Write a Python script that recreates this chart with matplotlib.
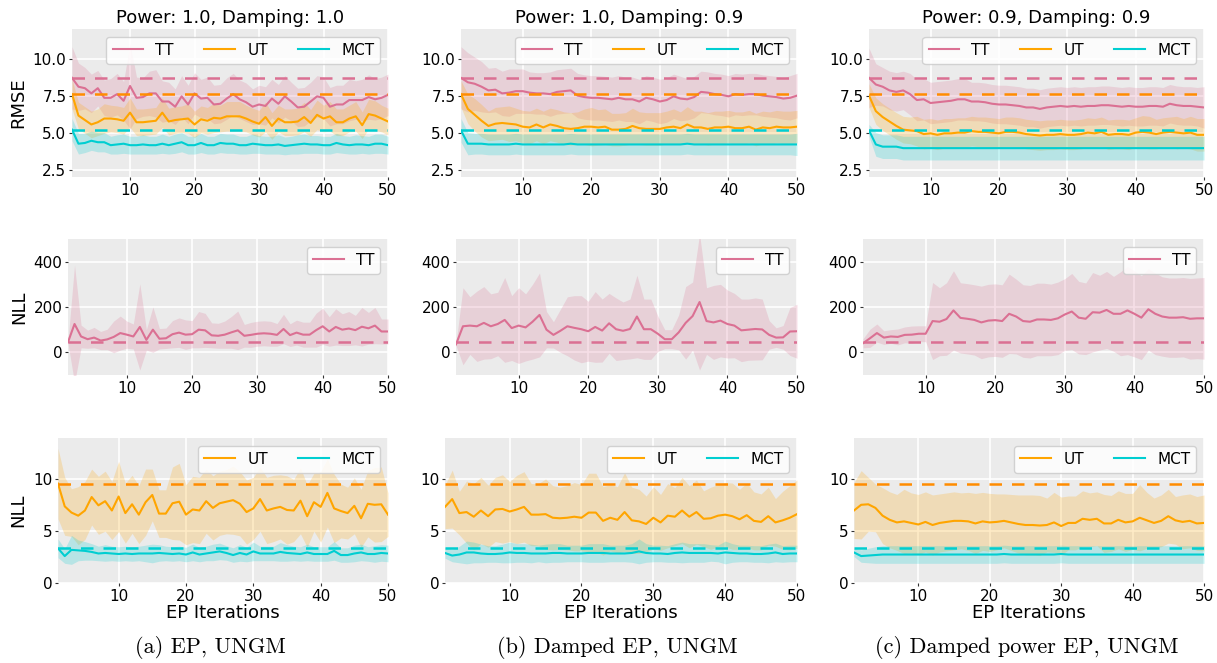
import matplotlib
matplotlib.use("Agg")
import matplotlib.pyplot as plt
import numpy as np

# EP iterations
iters = np.arange(1, 51)

titles = ['Power: 1.0, Damping: 1.0', 'Power: 1.0, Damping: 0.9', 'Power: 0.9, Damping: 0.9']
captions = ['(a) EP, UNGM', '(b) Damped EP, UNGM', '(c) Damped power EP, UNGM']

# reference (dashed) levels
rmse_ref = {'TT': 8.72, 'UT': 7.58, 'MCT': 5.18}
nll_tt_ref = 45
nll_ref = {'UT': 9.57, 'MCT': 3.35}

# ---------------- column (a) ----------------
rmse_tt_a = [8.7, 8.1, 8.0, 7.65, 8.0, 7.35, 7.35, 7.6, 7.15, 8.15, 7.35, 7.4, 7.65, 7.65, 7.1, 7.1, 6.75, 7.45, 6.9, 7.65,
             7.3, 7.35, 6.9, 6.95, 7.3, 7.6, 7.25, 7.05, 6.75, 6.9, 6.8, 7.3, 6.95, 7.45, 7.1, 6.7, 6.75, 7.1, 7.45, 7.35,
             6.75, 6.9, 6.9, 7.2, 7.2, 7.2, 7.4, 7.25, 7.35, 7.55]
rmse_tt_a_sd = [2.1, 1.6, 1.4, 1.3, 1.2, 1.2, 1.3, 1.4, 1.3, 2.9, 1.4, 1.3, 1.5, 1.6, 1.4, 1.3, 1.2, 1.4, 1.3, 1.4,
                1.3, 1.4, 1.3, 1.3, 1.4, 1.4, 1.3, 1.3, 1.2, 1.3, 1.3, 1.3, 1.3, 1.4, 1.3, 1.3, 1.3, 1.3, 1.4, 1.4,
                1.3, 1.3, 1.3, 1.4, 1.3, 1.4, 1.5, 1.4, 1.4, 1.4]
rmse_ut_a = [7.6, 6.15, 5.85, 5.55, 5.7, 5.95, 5.95, 5.9, 5.8, 6.35, 5.7, 5.7, 5.75, 5.8, 6.35, 5.75, 5.85, 5.9, 5.95, 5.55,
             5.9, 5.8, 6.0, 5.95, 6.1, 6.1, 6.1, 5.95, 5.75, 5.6, 6.05, 5.45, 5.95, 5.7, 5.7, 5.75, 6.05, 5.65, 6.2, 5.95,
             6.1, 5.7, 5.7, 5.95, 6.1, 5.5, 6.25, 6.15, 5.95, 5.75]
rmse_ut_a_sd = [1.0, 0.9, 0.9, 0.9, 0.9, 1.0, 0.9, 0.9, 0.9, 1.0, 0.9, 0.9, 0.9, 0.9, 1.0, 0.9, 0.9, 0.9, 1.0, 0.9,
                0.9, 0.9, 1.0, 0.9, 1.0, 1.0, 1.0, 0.9, 0.9, 0.9, 1.0, 0.9, 0.9, 0.9, 0.9, 0.9, 1.0, 0.9, 1.0, 0.9,
                1.0, 0.9, 0.9, 0.9, 1.0, 0.9, 1.0, 1.0, 0.9, 0.9]
rmse_mct_a = [5.2, 4.25, 4.3, 4.45, 4.35, 4.35, 4.15, 4.2, 4.25, 4.15, 4.15, 4.2, 4.15, 4.15, 4.25, 4.15, 4.25, 4.35, 4.15, 4.15,
              4.3, 4.15, 4.15, 4.3, 4.25, 4.25, 4.15, 4.15, 4.25, 4.2, 4.15, 4.15, 4.2, 4.1, 4.15, 4.2, 4.25, 4.2, 4.2, 4.15,
              4.15, 4.3, 4.2, 4.15, 4.2, 4.2, 4.15, 4.25, 4.25, 4.15]
rmse_mct_a_sd = [0.75, 0.7, 0.65, 0.65, 0.65, 0.65, 0.6, 0.65, 0.65, 0.6, 0.6, 0.65, 0.6, 0.6, 0.65, 0.6, 0.65, 0.65, 0.6, 0.6,
                 0.65, 0.6, 0.6, 0.65, 0.65, 0.65, 0.6, 0.6, 0.65, 0.6, 0.6, 0.6, 0.65, 0.6, 0.6, 0.65, 0.65, 0.6, 0.6, 0.6,
                 0.6, 0.65, 0.6, 0.6, 0.65, 0.6, 0.6, 0.65, 0.65, 0.6]
nll_tt_a = [45, 125, 70, 58, 65, 52, 57, 68, 85, 78, 70, 112, 55, 100, 60, 62, 80, 87, 78, 80,
            100, 97, 75, 73, 78, 88, 97, 73, 77, 82, 84, 82, 77, 103, 76, 87, 78, 78, 98, 115,
            92, 112, 100, 105, 98, 113, 106, 118, 92, 92]
nll_tt_a_sd = [5, 260, 50, 40, 45, 40, 45, 70, 75, 60, 55, 190, 45, 100, 45, 45, 60, 65, 65, 60,
               80, 75, 55, 55, 60, 70, 85, 50, 55, 55, 55, 55, 50, 65, 50, 55, 55, 55, 75, 80,
               65, 80, 70, 75, 65, 85, 70, 80, 55, 55]
nll_ut_a = [9.6, 7.4, 6.8, 6.5, 7.0, 8.3, 7.5, 7.9, 7.0, 8.35, 6.75, 7.6, 6.6, 7.8, 8.5, 6.7, 6.7, 7.7, 7.85, 6.6,
            7.1, 7.0, 7.9, 7.25, 7.7, 7.85, 8.0, 7.65, 6.85, 7.2, 8.1, 7.0, 7.2, 7.35, 7.05, 7.0, 7.95, 6.45, 7.8, 7.35,
            8.7, 7.2, 6.95, 6.75, 7.45, 6.25, 7.65, 7.55, 7.6, 6.6]
nll_ut_a_sd = [3.4, 2.8, 2.3, 2.8, 2.8, 2.7, 2.8, 2.9, 2.8, 3.4, 2.9, 2.8, 2.8, 3.2, 2.5, 2.3, 2.3, 3.5, 3.7, 2.9,
               3.2, 3.2, 3.1, 3.1, 3.1, 3.1, 3.3, 3.1, 3.1, 3.0, 3.1, 3.2, 3.2, 3.1, 3.3, 3.0, 3.2, 3.0, 2.8, 3.4,
               3.3, 3.3, 2.6, 2.5, 2.7, 2.8, 3.2, 3.6, 3.6, 2.1]
nll_mct_a = [3.35, 2.6, 3.2, 3.15, 3.1, 3.0, 2.85, 2.9, 2.85, 2.8, 2.85, 2.8, 2.85, 2.85, 2.85, 2.9, 2.85, 2.8, 2.85, 2.75,
             2.95, 2.75, 2.85, 2.95, 3.05, 2.9, 2.7, 2.9, 2.75, 3.05, 2.85, 2.85, 2.85, 3.0, 2.9, 2.85, 2.8, 2.95, 2.8, 2.8,
             2.8, 3.1, 2.7, 2.7, 2.85, 2.95, 2.8, 2.8, 2.9, 2.85]
nll_mct_a_sd = [0.9, 0.7, 1.4, 1.0, 0.9, 0.8, 0.7, 0.8, 0.7, 0.7, 0.7, 0.7, 0.7, 0.8, 0.9, 0.8, 0.7, 0.7, 0.7, 0.7,
                0.8, 0.7, 0.7, 0.8, 0.8, 0.7, 0.7, 0.8, 0.7, 0.9, 0.7, 0.7, 0.7, 0.9, 0.8, 0.7, 0.7, 0.8, 0.7, 0.7,
                0.7, 0.9, 0.7, 0.7, 0.8, 0.8, 0.7, 0.8, 0.8, 0.8]

# ---------------- column (b) ----------------
rmse_tt_b = [8.7, 8.4, 8.3, 8.1, 7.85, 7.9, 7.65, 7.7, 7.8, 7.8, 7.7, 7.65, 7.65, 7.6, 7.75, 7.8, 7.85, 7.5, 7.4, 7.35,
             7.35, 7.3, 7.25, 7.35, 7.25, 7.25, 7.1, 7.35, 7.25, 7.1, 7.2, 7.45, 7.3, 7.25, 7.4, 7.75, 7.7, 7.6, 7.55, 7.45,
             7.6, 7.55, 7.6, 7.6, 7.5, 7.45, 7.4, 7.3, 7.35, 7.5]
rmse_tt_b_sd = [2.1, 2.0, 1.8, 1.7, 1.5, 1.5, 1.5, 1.6, 1.5, 1.5, 1.4, 1.4, 1.4, 1.5, 1.5, 1.5, 1.5, 1.5, 1.5, 1.5,
                1.5, 1.5, 1.5, 1.5, 1.5, 1.5, 1.5, 1.5, 1.5, 1.5, 1.5, 1.5, 1.5, 1.4, 1.4, 1.4, 1.4, 1.4, 1.4, 1.4,
                1.4, 1.4, 1.4, 1.4, 1.4, 1.4, 1.4, 1.4, 1.5, 1.5]
rmse_ut_b = [7.6, 6.6, 6.2, 5.8, 5.45, 5.6, 5.65, 5.6, 5.55, 5.4, 5.35, 5.55, 5.35, 5.55, 5.45, 5.3, 5.25, 5.3, 5.4, 5.4,
             5.35, 5.4, 5.2, 5.2, 5.25, 5.45, 5.3, 5.25, 5.25, 5.25, 5.35, 5.4, 5.3, 5.55, 5.35, 5.35, 5.25, 5.35, 5.35, 5.4,
             5.3, 5.3, 5.4, 5.2, 5.35, 5.3, 5.4, 5.35, 5.35, 5.4]
rmse_ut_b_sd = [0.9, 1.0, 1.1, 1.1, 1.0, 1.1, 1.1, 1.2, 1.1, 1.1, 1.1, 1.1, 1.1, 1.1, 1.1, 1.1, 1.1, 1.1, 1.2, 1.3,
                1.2, 1.2, 1.1, 1.1, 1.1, 1.2, 1.1, 1.1, 1.1, 1.1, 1.1, 1.2, 1.1, 1.2, 1.1, 1.1, 1.1, 1.1, 1.1, 1.1,
                1.1, 1.1, 1.1, 1.1, 1.1, 1.1, 1.1, 1.1, 1.1, 1.1]
rmse_mct_b = [5.15, 4.25, 4.25, 4.25, 4.2, 4.2, 4.2, 4.2, 4.25, 4.2, 4.2, 4.2, 4.2, 4.2, 4.2, 4.2, 4.25, 4.2, 4.2, 4.2,
              4.2, 4.2, 4.2, 4.2, 4.2, 4.2, 4.2, 4.2, 4.2, 4.2, 4.2, 4.2, 4.2, 4.25, 4.2, 4.2, 4.2, 4.2, 4.2, 4.2,
              4.2, 4.2, 4.2, 4.2, 4.2, 4.2, 4.2, 4.2, 4.2, 4.2]
rmse_mct_b_sd = [0.8, 0.75, 0.7, 0.7, 0.7, 0.7, 0.7, 0.7, 0.7, 0.7, 0.7, 0.7, 0.7, 0.7, 0.7, 0.7, 0.7, 0.7, 0.7, 0.7,
                 0.7, 0.7, 0.7, 0.7, 0.7, 0.7, 0.7, 0.7, 0.7, 0.7, 0.7, 0.7, 0.7, 0.7, 0.7, 0.7, 0.7, 0.7, 0.7, 0.7,
                 0.7, 0.7, 0.7, 0.7, 0.7, 0.7, 0.7, 0.7, 0.7, 0.75]
nll_tt_b = [35, 115, 118, 115, 130, 115, 125, 143, 107, 118, 110, 135, 165, 100, 77, 95, 115, 108, 102, 93,
            112, 96, 128, 102, 95, 103, 158, 102, 102, 82, 58, 58, 88, 130, 160, 222, 138, 132, 140, 125,
            118, 97, 100, 103, 101, 77, 65, 66, 92, 93]
nll_tt_b_sd = [5, 170, 127, 155, 160, 143, 140, 187, 143, 167, 148, 165, 185, 80, 58, 95, 130, 142, 148, 132,
               156, 139, 132, 138, 127, 132, 182, 133, 133, 78, 42, 42, 77, 160, 150, 300, 147, 163, 160, 150,
               142, 138, 135, 137, 134, 63, 43, 52, 106, 119]
nll_ut_b = [7.35, 8.1, 6.75, 6.85, 6.4, 7.0, 6.45, 7.1, 7.15, 6.9, 7.1, 7.35, 6.6, 6.6, 6.65, 6.3, 6.25, 6.3, 6.4, 6.3,
            6.8, 6.8, 6.0, 6.3, 6.1, 6.85, 6.05, 5.95, 5.7, 6.3, 5.85, 6.5, 6.4, 7.0, 6.4, 6.85, 6.2, 6.25, 6.5, 6.6,
            6.45, 6.15, 6.55, 6.0, 5.9, 6.45, 5.85, 6.05, 6.3, 6.65]
nll_ut_b_sd = [2.1, 2.8, 2.1, 3.0, 3.2, 3.2, 3.0, 3.1, 3.3, 2.9, 3.3, 3.4, 3.0, 3.0, 3.4, 3.1, 3.0, 3.1, 3.3, 3.2,
               3.8, 3.8, 3.3, 3.2, 3.2, 3.8, 3.2, 3.1, 2.7, 3.0, 2.7, 3.1, 2.8, 3.2, 3.0, 3.1, 2.7, 3.0, 3.0, 3.1,
               3.2, 2.9, 3.1, 2.8, 2.7, 2.8, 2.3, 2.8, 3.1, 3.3]
nll_mct_b = [2.9, 2.65, 2.75, 2.95, 2.95, 2.85, 2.8, 2.8, 2.85, 2.95, 2.9, 2.9, 2.85, 2.85, 2.85, 2.9, 2.9, 2.85, 2.85, 2.85,
             2.9, 2.9, 2.9, 2.85, 2.85, 2.85, 2.9, 3.05, 2.9, 2.85, 2.85, 2.8, 2.9, 2.95, 2.9, 2.9, 2.9, 2.9, 2.85, 2.95,
             2.9, 2.85, 2.85, 2.8, 2.8, 2.85, 2.95, 2.8, 2.85, 2.85]
nll_mct_b_sd = [0.5, 0.6, 0.8, 1.1, 1.0, 0.9, 0.8, 0.8, 0.9, 1.0, 0.9, 0.9, 0.9, 0.8, 0.9, 0.9, 0.9, 0.8, 0.8, 0.8,
                0.9, 0.9, 0.9, 0.8, 0.8, 0.8, 0.9, 1.2, 0.9, 0.8, 0.8, 0.8, 0.9, 1.0, 0.9, 0.9, 0.9, 0.8, 0.8, 1.1,
                0.9, 0.8, 0.8, 0.8, 0.8, 0.9, 0.9, 0.8, 0.8, 0.8]

# ---------------- column (c) ----------------
rmse_tt_c = [8.7, 8.25, 8.1, 7.85, 7.75, 7.85, 7.6, 7.2, 7.25, 7.0, 7.05, 7.1, 7.15, 7.25, 7.25, 7.1, 7.1, 7.05, 6.95, 6.9,
             6.9, 6.85, 6.8, 6.7, 6.7, 6.6, 6.7, 6.75, 6.8, 6.75, 6.8, 6.75, 6.8, 6.8, 6.85, 6.85, 6.8, 6.75, 6.8, 6.75,
             6.75, 6.8, 6.8, 6.75, 6.95, 6.85, 6.8, 6.8, 6.75, 6.7]
rmse_tt_c_sd = [2.0, 1.4, 1.3, 1.3, 1.3, 1.3, 1.4, 1.4, 1.4, 1.4, 1.4, 1.4, 1.4, 1.4, 1.4, 1.3, 1.3, 1.3, 1.3, 1.3,
                1.3, 1.3, 1.3, 1.3, 1.3, 1.3, 1.3, 1.3, 1.3, 1.3, 1.3, 1.3, 1.3, 1.3, 1.3, 1.3, 1.3, 1.3, 1.3, 1.3,
                1.3, 1.3, 1.3, 1.3, 1.3, 1.3, 1.3, 1.3, 1.3, 1.4]
rmse_ut_c = [7.5, 6.45, 6.05, 5.75, 5.45, 5.2, 5.15, 5.1, 4.9, 4.95, 4.85, 4.95, 4.95, 5.0, 5.0, 5.1, 5.05, 5.05, 5.0, 4.95,
             5.05, 5.05, 5.0, 4.9, 4.85, 4.8, 4.85, 4.85, 4.9, 4.85, 4.85, 4.9, 5.0, 4.95, 5.05, 4.85, 4.9, 4.9, 4.85, 5.0,
             5.05, 5.0, 4.9, 5.0, 5.05, 5.0, 4.95, 5.0, 4.85, 4.85]
rmse_ut_c_sd = [0.8, 0.9, 0.9, 0.9, 0.9, 0.9, 0.9, 1.0, 1.0, 1.0, 1.0, 1.0, 1.0, 1.0, 1.0, 1.0, 1.0, 1.0, 1.0, 1.0,
                1.0, 1.0, 1.0, 1.0, 1.0, 1.0, 1.0, 1.0, 1.0, 1.0, 1.0, 1.0, 1.0, 1.0, 1.0, 1.0, 1.0, 1.0, 1.0, 1.0,
                1.1, 1.1, 1.0, 1.0, 1.0, 1.1, 1.0, 1.1, 1.1, 1.1]
rmse_mct_c = [5.15, 4.2, 4.05, 4.05, 4.05, 3.95, 3.95, 3.95, 3.95, 3.95, 3.95, 3.95, 3.95, 3.95, 3.95, 3.95, 3.95, 3.95, 3.95, 3.95,
              3.95, 3.95, 3.95, 3.95, 3.95, 3.95, 3.95, 3.95, 3.95, 3.95, 3.95, 3.95, 3.95, 3.95, 3.95, 3.95, 3.95, 3.95, 3.95, 3.95,
              3.95, 3.95, 3.95, 3.95, 3.95, 3.95, 3.95, 3.95, 3.95, 3.95]
rmse_mct_c_sd = [0.4, 0.8, 0.8, 0.8, 0.8, 0.8, 0.8, 0.8, 0.8, 0.8, 0.8, 0.8, 0.8, 0.8, 0.8, 0.8, 0.8, 0.8, 0.8, 0.8,
                 0.8, 0.8, 0.8, 0.8, 0.8, 0.8, 0.8, 0.8, 0.8, 0.8, 0.8, 0.8, 0.8, 0.8, 0.8, 0.8, 0.8, 0.8, 0.8, 0.8,
                 0.8, 0.8, 0.8, 0.8, 0.8, 0.8, 0.8, 0.8, 0.8, 0.8]
nll_tt_c = [40, 62, 85, 65, 70, 68, 77, 78, 82, 82, 138, 135, 147, 185, 152, 148, 143, 132, 140, 142,
            138, 170, 158, 138, 135, 145, 145, 143, 150, 167, 180, 153, 148, 177, 175, 187, 170, 170, 185, 170,
            153, 190, 170, 158, 153, 153, 155, 148, 150, 150]
nll_tt_c_sd = [20, 40, 40, 30, 30, 35, 35, 38, 35, 35, 170, 150, 160, 175, 155, 155, 155, 160, 160, 160,
               160, 175, 165, 160, 160, 160, 160, 158, 160, 158, 168, 160, 158, 175, 165, 170, 165, 185, 195, 190,
               185, 180, 180, 175, 175, 175, 175, 178, 178, 180]
nll_ut_c = [7.0, 7.55, 7.6, 7.25, 6.5, 6.1, 5.85, 5.95, 5.8, 5.65, 5.9, 5.6, 5.8, 5.9, 6.0, 6.0, 5.95, 5.75, 5.95, 5.85,
            5.9, 6.0, 5.85, 5.7, 5.6, 5.6, 5.55, 5.6, 5.85, 5.5, 5.8, 5.8, 6.2, 6.1, 6.2, 5.75, 5.75, 6.1, 5.85, 5.95,
            6.3, 6.05, 5.8, 6.0, 6.45, 6.05, 5.9, 6.0, 5.75, 5.8]
nll_ut_c_sd = [2.7, 3.3, 2.6, 2.3, 2.7, 2.7, 2.7, 3.1, 2.9, 2.9, 2.9, 2.9, 2.8, 2.8, 2.8, 2.7, 2.8, 2.9, 2.8, 2.8,
               2.7, 2.6, 2.7, 2.8, 2.9, 2.9, 2.9, 2.6, 2.9, 2.8, 2.6, 2.6, 2.7, 2.6, 2.6, 2.8, 2.7, 2.8, 2.8, 2.7,
               3.2, 2.7, 2.4, 2.5, 2.6, 2.3, 2.6, 2.6, 2.6, 2.7]
nll_mct_c = [2.95, 2.6, 2.65, 2.7, 2.75, 2.75, 2.75, 2.75, 2.75, 2.75, 2.75, 2.75, 2.75, 2.75, 2.75, 2.75, 2.75, 2.75, 2.75, 2.75,
             2.75, 2.8, 2.75, 2.75, 2.75, 2.75, 2.75, 2.75, 2.75, 2.8, 2.75, 2.75, 2.75, 2.75, 2.75, 2.75, 2.75, 2.75, 2.75, 2.75,
             2.75, 2.75, 2.75, 2.75, 2.75, 2.75, 2.75, 2.75, 2.75, 2.75]
nll_mct_c_sd = [0.4, 0.6, 0.7, 0.8, 0.85, 0.85, 0.85, 0.85, 0.85, 0.85, 0.85, 0.85, 0.85, 0.85, 0.85, 0.85, 0.85, 0.85, 0.85, 0.85,
                0.85, 0.85, 0.85, 0.85, 0.85, 0.85, 0.85, 0.85, 0.85, 0.85, 0.85, 0.85, 0.85, 0.85, 0.85, 0.85, 0.85, 0.85, 0.85, 0.85,
                0.85, 0.85, 0.85, 0.85, 0.85, 0.85, 0.85, 0.85, 0.85, 0.85]

rmse_cols = [
    {'TT': (rmse_tt_a, rmse_tt_a_sd), 'UT': (rmse_ut_a, rmse_ut_a_sd), 'MCT': (rmse_mct_a, rmse_mct_a_sd)},
    {'TT': (rmse_tt_b, rmse_tt_b_sd), 'UT': (rmse_ut_b, rmse_ut_b_sd), 'MCT': (rmse_mct_b, rmse_mct_b_sd)},
    {'TT': (rmse_tt_c, rmse_tt_c_sd), 'UT': (rmse_ut_c, rmse_ut_c_sd), 'MCT': (rmse_mct_c, rmse_mct_c_sd)},
]
nll_tt_cols = [(nll_tt_a, nll_tt_a_sd), (nll_tt_b, nll_tt_b_sd), (nll_tt_c, nll_tt_c_sd)]
nll_cols = [
    {'UT': (nll_ut_a, nll_ut_a_sd), 'MCT': (nll_mct_a, nll_mct_a_sd)},
    {'UT': (nll_ut_b, nll_ut_b_sd), 'MCT': (nll_mct_b, nll_mct_b_sd)},
    {'UT': (nll_ut_c, nll_ut_c_sd), 'MCT': (nll_mct_c, nll_mct_c_sd)},
]

colores = {'TT': 'palevioletred', 'UT': 'orange', 'MCT': 'darkturquoise'}
colores_ref = {'TT': 'palevioletred', 'UT': 'darkorange', 'MCT': 'darkturquoise'}

W, H = 1217, 663
fig = plt.figure(figsize=(W / 100, H / 100), dpi=100)

# axes boxes in pixels: (left, top, right, bottom) per column and row
boxes = [
    [(72, 29, 388, 177), (68, 239, 388, 375), (58, 438, 388, 583)],
    [(461, 29, 797, 177), (456, 239, 797, 375), (445, 438, 797, 583)],
    [(869, 29, 1204, 177), (863, 239, 1204, 375), (854, 438, 1204, 583)],
]
caption_x = [210, 617, 1027]

TICK = 11
LAB = 13
LEG = 11


def make_ax(box):
    l, t, r, b = box
    ax = fig.add_axes([l / W, 1 - b / H, (r - l) / W, (b - t) / H])
    ax.set_facecolor('#EBEBEB')
    for s in ax.spines.values():
        s.set_visible(False)
    ax.grid(True, color='white', linewidth=1.2)
    ax.set_axisbelow(True)
    ax.tick_params(labelsize=TICK, length=2.5, color='#333333', pad=1.5)
    ax.set_xlim(1, 50)
    ax.set_xticks([10, 20, 30, 40, 50])
    return ax


def band(ax, key, mean, sd, lw=1.5):
    m = np.array(mean)
    s = np.array(sd)
    ax.fill_between(iters, m - s, m + s, color=colores[key], alpha=0.22, linewidth=0)
    ax.plot(iters, m, color=colores[key], lw=lw, label=key)


for c in range(3):
    # RMSE
    ax = make_ax(boxes[c][0])
    for k in ['TT', 'UT', 'MCT']:
        band(ax, k, *rmse_cols[c][k])
    for k in ['TT', 'UT', 'MCT']:
        ax.axhline(rmse_ref[k], color=colores_ref[k], ls=(0, (5, 4)), lw=1.8)
    ax.set_ylim(2.0, 12.0)
    ax.set_yticks([2.5, 5.0, 7.5, 10.0])
    ax.set_title(titles[c], fontsize=LAB, pad=4)
    ax.legend(ncol=3, loc='upper right', fontsize=LEG, framealpha=0.85)
    if c == 0:
        ax.set_ylabel('RMSE', fontsize=LAB)

    # NLL TT
    ax = make_ax(boxes[c][1])
    band(ax, 'TT', *nll_tt_cols[c])
    ax.axhline(nll_tt_ref, color=colores_ref['TT'], ls=(0, (5, 4)), lw=1.8)
    ax.set_ylim(-100, 500)
    ax.set_yticks([0, 200, 400])
    ax.legend(loc='upper right', fontsize=LEG, framealpha=0.85)
    if c == 0:
        ax.set_ylabel('NLL', fontsize=LAB)

    # NLL UT / MCT
    ax = make_ax(boxes[c][2])
    for k in ['UT', 'MCT']:
        band(ax, k, *nll_cols[c][k])
    for k in ['UT', 'MCT']:
        ax.axhline(nll_ref[k], color=colores_ref[k], ls=(0, (5, 4)), lw=1.8)
    ax.set_ylim(0, 14)
    ax.set_yticks([0, 5, 10])
    ax.legend(ncol=2, loc='upper right', fontsize=LEG, framealpha=0.85)
    ax.set_xlabel('EP Iterations', fontsize=LAB, labelpad=0)
    if c == 0:
        ax.set_ylabel('NLL', fontsize=LAB)

    fig.text(caption_x[c] / W, 1 - 653 / H, captions[c], ha='center', va='baseline',
             fontsize=16, family='cmr10')

fig.savefig('out.png', dpi=100)
